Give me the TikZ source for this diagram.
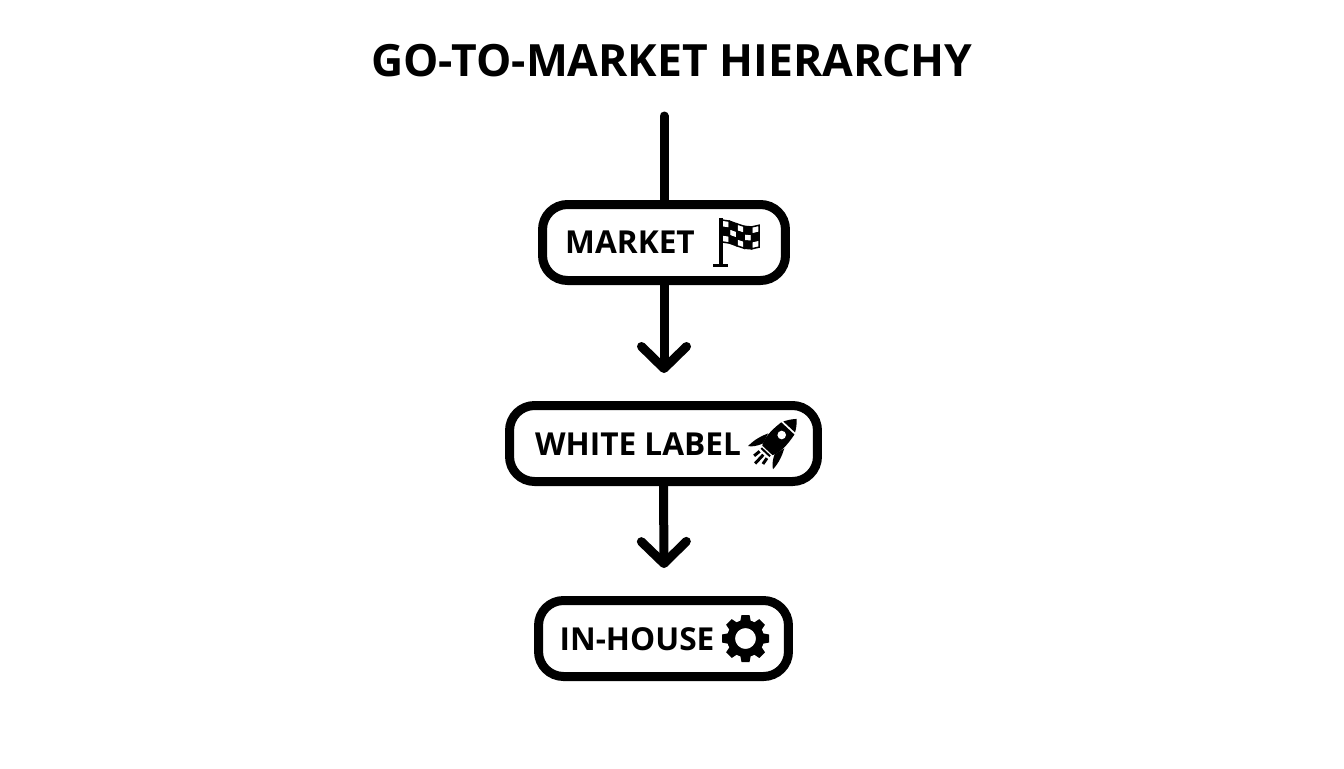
\documentclass[tikz,border=0pt]{standalone}
\usepackage{fontspec}
\setmainfont{Open Sans}
\usetikzlibrary{arrows.meta}

\begin{document}
\begin{tikzpicture}[x=0.02cm,y=-0.02cm]
\tikzstyle{heading}=[font=\fontsize{25.3}{30}\selectfont\bfseries]
\tikzstyle{tier}=[rectangle,draw=black,fill=white,line width=0.18cm,rounded corners=0.5cm,minimum height=1.52cm]
\tikzstyle{tiertext}=[font=\fontsize{18}{22}\selectfont\bfseries,inner sep=0pt]
\tikzstyle{link}=[draw=black,line width=0.18cm]
\tikzstyle{flow}=[link,-{Straight Barb[length=0.44cm,width=0.9cm,round]}]
\useasboundingbox (0,0) rectangle (1344,768);
\node [heading] (title) at (672,61) {GO-TO-MARKET HIERARCHY};
\coordinate (start) at (664,116);
\node [tier,minimum width=4.86cm] (market) at (664,242.5) {};
\node [tier,minimum width=6.16cm] (whitelabel) at (663.5,443.5) {};
\node [tier,minimum width=5.0cm] (inhouse) at (663.5,638.5) {};
\node [tiertext] (markettext) at (630,242) {MARKET};
\node [tiertext] (whitelabeltext) at (638,444) {WHITE LABEL};
\node [tiertext] (inhousetext) at (637,639) {IN-HOUSE};
\draw [link,line cap=round] (start) -- (market.north);
\draw [flow] (market.south) -- (664,373);
\draw [flow] (whitelabel.south) -- (664,568);
% flag
\fill (719,218) rectangle (722.5,265);
\fill (713,263.5) rectangle (728,267);
\foreach \i in {0,...,4} {
  \foreach \j in {0,...,2} {
    \pgfmathsetmacro{\ta}{\i/5}
    \pgfmathsetmacro{\tb}{(\i+1)/5}
    \pgfmathsetmacro{\wa}{3.5*(1-cos(\ta*240))}
    \pgfmathsetmacro{\wb}{3.5*(1-cos(\tb*240))}
    \pgfmathsetmacro{\xa}{722+37*\ta}
    \pgfmathsetmacro{\xb}{722+37*\tb}
    \pgfmathsetmacro{\ya}{220+\wa+7.3*\j}
    \pgfmathsetmacro{\yb}{220+\wb+7.3*\j}
    \pgfmathparse{int(mod(\i+\j,2))}
    \ifnum\pgfmathresult=1
      \fill (\xa,\ya) -- (\xb,\yb) -- (\xb,\yb+7.3) -- (\xa,\ya+7.3) -- cycle;
    \fi
    \draw [line width=0.03cm] (\xa,\ya) -- (\xb,\yb) -- (\xb,\yb+7.3) -- (\xa,\ya+7.3) -- cycle;
  }
}
% rocket
\begin{scope}[shift={(781.7,435)},rotate=47]
\fill (-21,-7) .. controls (-14,-11) and (-4,-11) .. (9,-9) -- (9,9) .. controls (-4,11) and (-14,11) .. (-21,7) -- cycle;
\fill (11,-8) .. controls (15,-6) and (19,-3) .. (22,0) .. controls (19,3) and (15,6) .. (11,8) -- cycle;
\fill [white] (0,0) circle (4.3);
\fill (-8,-11) .. controls (-14,-14) and (-22,-17) .. (-31,-17) .. controls (-29,-14) and (-26,-11) .. (-19,-8) -- cycle;
\fill (-8,11) .. controls (-14,14) and (-22,17) .. (-31,17) .. controls (-29,14) and (-26,11) .. (-19,8) -- cycle;
\fill (-24.5,-6) rectangle (-22.5,6);
\draw [line width=0.06cm] (-27,-5) -- (-34,-6) (-27,0) -- (-39,0) (-27,5) -- (-34,6);
\end{scope}
% gear
\begin{scope}[shift={(745.5,638.5)}]
\fill [even odd rule] (0,0) circle (18.5) (0,0) circle (10.5);
\foreach \a in {0,45,...,315} {
  \fill [rotate=\a] (-5.5,-16) -- (-4,-23.5) -- (4,-23.5) -- (5.5,-16) -- cycle;
}
\end{scope}
\end{tikzpicture}
\end{document}
